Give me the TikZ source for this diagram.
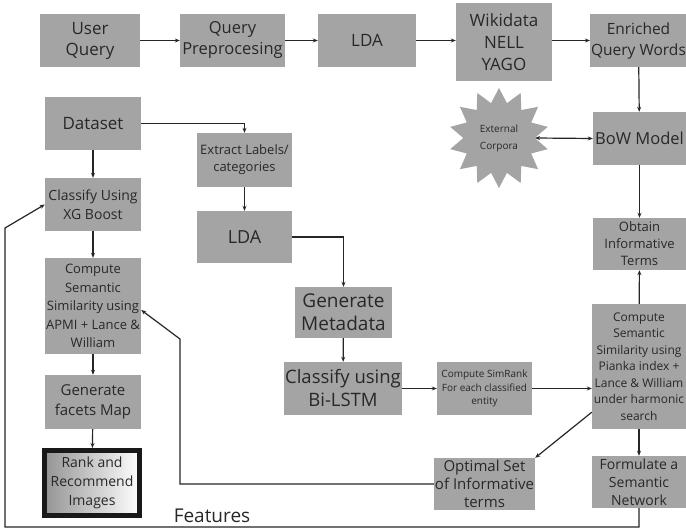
\documentclass[tikz,border=0pt]{standalone}
\usepackage{fontspec}
\setmainfont{Open Sans}
\usetikzlibrary{shapes.geometric,arrows.meta,calc}
\definecolor{boxgray}{RGB}{164,164,164}
\definecolor{txt}{RGB}{40,40,40}
\newcommand{\fs}[2]{\fontsize{#1}{#2}\selectfont}
\tikzset{
  box/.style={draw=none,fill=boxgray,text=txt,align=center,inner sep=1pt,minimum width=#1},
  box/.default=96pt,
  arr/.style={-{Stealth[length=5pt,width=4pt]},line width=1.2pt,draw=black!85},
  dbl/.style={{Stealth[length=5pt,width=4pt]}-{Stealth[length=5pt,width=4pt]},line width=1.2pt,draw=black!85},
  ln/.style={line width=1.2pt,draw=black!85}
}
\begin{document}
\begin{tikzpicture}[x=1pt,y=-1pt]
\fill[white] (0,0) rectangle (686,529);
\useasboundingbox (0,0) rectangle (686,529);
% top row
\node[box=100pt,minimum height=53pt,font=\fs{17}{21}] (uq) at (90,40.5) {User\\Query};
\node[box=105pt,minimum height=53pt,font=\fs{16.5}{21}] (qp) at (232.5,40.5) {Query\\Preprocesing};
\node[box=98pt,minimum height=53pt,font=\fs{17}{21}] (lda1) at (367,40.5) {LDA};
\node[box=96pt,minimum height=78pt,font=\fs{17}{22}] (wiki) at (504,42) {Wikidata\\NELL\\YAGO};
\node[box=91pt,minimum height=53pt,font=\fs{15.5}{21}] (enr) at (638.5,40.5) {Enriched\\Query Words};
% right column
\node[star,star points=14,star point ratio=1.4,fill=boxgray,minimum size=100pt,inner sep=0pt,text=txt,align=center,font=\fs{10}{17}] (star) at (499,138) {External\\Corpora};
\node[box=93pt,minimum height=53pt,font=\fs{16.5}{22}] (bow) at (639.5,138.5) {BoW Model};
\node[box=93pt,minimum height=52pt,font=\fs{13}{17}] (obt) at (639.5,244) {Obtain\\Informative\\Terms};
\node[box=94pt,minimum height=125pt,font=\fs{12}{16.5}] (csr) at (639,366.5) {Compute\\Semantic\\Similarity using\\Pianka index +\\Lance \& William\\under harmonic\\search};
\node[box=94pt,minimum height=52pt,font=\fs{14}{18}] (form) at (639,482) {Formulate a\\Semantic\\Network};
\node[box=95pt,minimum height=52pt,font=\fs{15}{18}] (opt) at (484.5,484) {Optimal Set\\of Informative\\terms};
\node[box=95pt,minimum height=53pt,font=\fs{10}{13.5}] (simr) at (484.5,388.5) {Compute SimRank\\For each classified\\entity};
% middle column
\node[box=100pt,minimum height=53pt,font=\fs{18.5}{23}] (bil) at (343,388.5) {Classify using\\Bi-LSTM};
\node[box=97pt,minimum height=51pt,font=\fs{19}{23}] (meta) at (343.5,312.5) {Generate\\Metadata};
\node[box=95pt,minimum height=54pt,font=\fs{13}{17}] (ext) at (244.5,160) {Extract Labels/\\categories};
\node[box=95pt,minimum height=52pt,font=\fs{18}{21}] (lda2) at (244.5,237) {LDA};
% left column
\node[box=96pt,minimum height=53pt,font=\fs{17}{21}] (ds) at (93,123.5) {Dataset};
\node[box=96pt,minimum height=53pt,font=\fs{14}{19}] (xg) at (93,204.5) {Classify Using\\XG Boost};
\node[box=96pt,minimum height=96pt,font=\fs{13}{18.5}] (csl) at (93,306) {Compute\\Semantic\\Similarity using\\APMI + Lance \&\\William};
\node[box=96pt,minimum height=54pt,font=\fs{15}{20}] (gfm) at (93,402) {Generate\\facets Map};
\node[draw=black!90,line width=5pt,left color=boxgray!90!black,right color=white,text=txt,align=center,minimum width=95pt,minimum height=65pt,inner sep=1pt,font=\fs{14}{19}] (rank) at (92,483) {Rank and\\Recommend\\Images};
\node[text=txt,font=\fs{19}{22},inner sep=0pt] (feat) at (212,516) {Features};
% coordinates
\coordinate (fb1) at (5,527);
\coordinate (fb2) at (5,228);
\coordinate (op1) at (180,484);
\coordinate (op2) at (180,339);
% connectors
\draw[arr] (uq) -- (qp);
\draw[arr] (qp) -- (lda1);
\draw[arr] (lda1) -- (wiki.west |- lda1);
\draw[arr] (wiki.east |- lda1) -- (enr);
\draw[arr] (enr) -- (bow);
\draw[dbl] (star.east) -- (bow.west);
\draw[arr] (bow) -- (obt);
\draw[arr] (csr) -- (obt);
\draw[arr] (csr) -- (form);
\draw[arr] ($(csr.south west)+(0,-17)$) -- (opt.north east);
\draw[arr] (simr) -- (csr.west |- simr);
\draw[arr] (bil) -- (simr);
\draw[arr] (meta) -- (bil);
\draw[arr] (lda2.east) -| (meta.north);
\draw[arr] (ds.east) -| (ext.north);
\draw[arr] (ext) -- (lda2);
\draw[arr] (ds) -- (xg);
\draw[arr] (xg) -- (csl);
\draw[arr] (csl) -- (gfm);
\draw[arr] (gfm) -- (rank);
\draw[arr] (opt.west) -- (op1) -- (op2) -- ($(csl.east)+(0,4)$);
\draw[arr] (form.south) |- (fb1) -- (fb2) -- (xg.west);
\end{tikzpicture}
\end{document}
